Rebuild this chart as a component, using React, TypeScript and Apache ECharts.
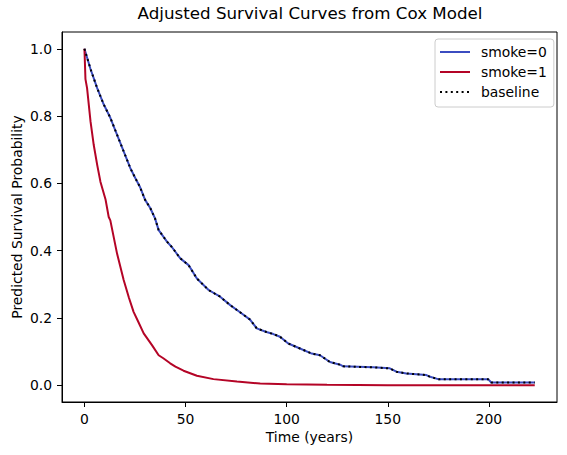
import { useEffect, useRef } from 'react'
import * as echarts from 'echarts'

// Values: [time (years), survival probability]
const smoke0Surv: [number, number][] = [
  [0, 1.0], [3, 0.94], [6.3, 0.883], [9.5, 0.835], [12.8, 0.795], [16.1, 0.745],
  [19.4, 0.695], [22.7, 0.645], [25.2, 0.615], [27.4, 0.59], [30, 0.551], [32.6, 0.526],
  [34.9, 0.496], [36.7, 0.461], [40.8, 0.427], [43.3, 0.41], [47.4, 0.377], [51.5, 0.357],
  [55.6, 0.317], [61.4, 0.283], [67.1, 0.263], [72.1, 0.238], [77.8, 0.213], [81.9, 0.195],
  [85.2, 0.169], [90, 0.158], [93.4, 0.152], [96.7, 0.144], [100.8, 0.124], [106.6, 0.109],
  [112.4, 0.094], [116.5, 0.089], [121.4, 0.069], [126.4, 0.061], [128, 0.056], [142.8, 0.053],
  [151, 0.05], [154.3, 0.04], [159.2, 0.035], [169.1, 0.03], [170.5, 0.026], [174.9, 0.018],
  [199.6, 0.018], [201.2, 0.008], [222.7, 0.008]
]

const smoke1Surv: [number, number][] = [
  [0, 1.0], [0.5, 0.91], [1.3, 0.883], [3, 0.784], [4.6, 0.714], [6.3, 0.655], [7.9, 0.605],
  [10.4, 0.553], [12, 0.5], [12.8, 0.49], [16.1, 0.392], [19.4, 0.3125], [22, 0.26],
  [24.3, 0.218], [26.5, 0.19], [29.3, 0.154], [33.4, 0.119], [36.7, 0.089], [39, 0.08],
  [42.4, 0.065], [45, 0.055], [49, 0.043], [55.6, 0.028], [63.8, 0.018], [75.4, 0.011],
  [86.9, 0.005], [100, 0.003], [120, 0.001], [150, 0.0], [222.7, 0.0]
]

// baseline curve sits exactly on top of smoke=0 in the picture
const baselineSurv = smoke0Surv

const xTicks = [0, 50, 100, 150, 200]
const yTicks = [0, 0.2, 0.4, 0.6, 0.8, 1.0]

const FONT = 'DejaVu Sans'

export default function App() {
  const chartRef = useRef<HTMLDivElement>(null)

  useEffect(() => {
    if (!chartRef.current) return
    const chart = echarts.init(chartRef.current, null, { renderer: 'svg' })

    const axisCommon = {
      type: 'value' as const,
      nameLocation: 'middle' as const,
      nameMoveOverlap: false,
      nameTextStyle: { color: '#000', fontSize: 13.9, fontFamily: FONT },
      axisLine: { show: true, onZero: false, lineStyle: { color: '#000', width: 1 } },
      splitLine: { show: false }
    }

    const option = {
      animation: false,
      textStyle: { fontFamily: FONT },
      title: {
        text: 'Adjusted Survival Curves from Cox Model',
        left: 310,
        top: 4,
        padding: 0,
        textAlign: 'center',
        textStyle: { color: '#000', fontSize: 16.7, fontWeight: 'normal', fontFamily: FONT }
      },
      legend: {
        orient: 'vertical',
        left: 435,
        top: 39,
        padding: [6, 7, 8, 4],
        itemWidth: 30,
        itemHeight: 14,
        itemGap: 6,
        itemStyle: { opacity: 0 },
        backgroundColor: 'rgba(255,255,255,0.8)',
        borderColor: '#cccccc',
        borderWidth: 1,
        borderRadius: 3,
        textStyle: { color: '#000', fontSize: 13.9, fontFamily: FONT, lineHeight: 14, padding: [0, 0, 0, 6] },
        data: ['smoke=0', 'smoke=1', 'baseline']
      },
      grid: {
        left: 62,
        right: 10,
        top: 32,
        bottom: 53,
        containLabel: false,
        outerBoundsMode: 'none',
        show: true,
        borderColor: '#000',
        borderWidth: 1,
        backgroundColor: '#fff'
      },
      xAxis: {
        ...axisCommon,
        name: 'Time (years)',
        nameGap: 28,
        min: -11.1,
        max: 233.7,
        axisTick: { show: true, length: 5, customValues: xTicks, lineStyle: { color: '#000' } },
        axisLabel: {
          customValues: xTicks,
          margin: 10,
          color: '#000',
          fontSize: 13.9,
          fontFamily: FONT,
          formatter: (v: number) => String(v)
        }
      },
      yAxis: {
        ...axisCommon,
        name: 'Predicted Survival Probability',
        nameGap: 38,
        min: -0.05,
        max: 1.05,
        axisTick: { show: true, length: 5, customValues: yTicks, lineStyle: { color: '#000' } },
        axisLabel: {
          customValues: yTicks,
          margin: 10,
          color: '#000',
          fontSize: 13.9,
          fontFamily: FONT,
          formatter: (v: number) => v.toFixed(1)
        }
      },
      series: [
        {
          name: 'smoke=0',
          type: 'line',
          symbol: 'none',
          data: smoke0Surv,
          lineStyle: { color: '#3b4cc0', width: 2 },
          itemStyle: { color: '#3b4cc0' }
        },
        {
          name: 'smoke=1',
          type: 'line',
          symbol: 'none',
          data: smoke1Surv,
          lineStyle: { color: '#b40426', width: 2 },
          itemStyle: { color: '#b40426' }
        },
        {
          name: 'baseline',
          type: 'line',
          symbol: 'none',
          data: baselineSurv,
          lineStyle: { color: '#000', width: 2, type: [2, 3.4] },
          itemStyle: { color: '#000' }
        }
      ]
    }

    chart.setOption(option)

    return () => {
      chart.dispose()
    }
  }, [])

  return (
    <div
      ref={chartRef}
      style={{ position: 'fixed', left: 0, top: 0, width: 567, height: 455, background: '#fff' }}
    />
  )
}
